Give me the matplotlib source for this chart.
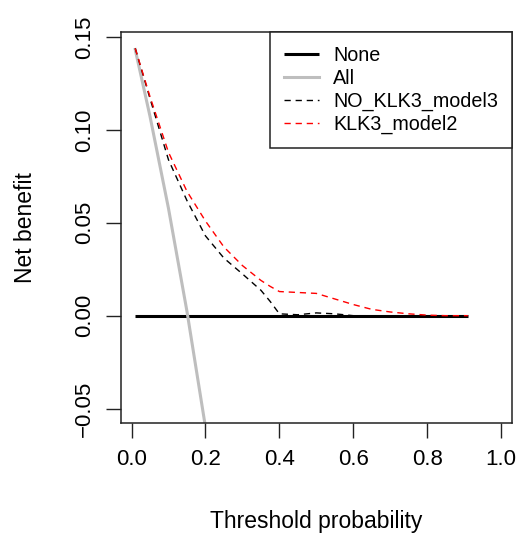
import matplotlib

matplotlib.use("Agg")
import matplotlib.pyplot as plt


# values
THRESHOLDS = [0.01, 0.05, 0.10, 0.15, 0.20, 0.25, 0.30, 0.35, 0.375, 0.40, 0.45,
              0.50, 0.55, 0.60, 0.65, 0.70, 0.75, 0.80, 0.85, 0.90, 0.91]
NONE_NB = [0.0] * len(THRESHOLDS)
ALL_THRESHOLDS = [0.01, 0.05, 0.10, 0.15, 0.20, 0.25]
ALL_NB = [0.1434, 0.1074, 0.0578, 0.0023, -0.060, -0.130]
NO_KLK3_NB = [0.144, 0.117, 0.084, 0.062, 0.043, 0.031, 0.0225, 0.0137, 0.0077, 0.001,
              0.0005, 0.0015, 0.001, 0.0, 0.0, 0.0, 0.0, 0.0, 0.0, 0.0, 0.0]
KLK3_NB = [0.144, 0.118, 0.088, 0.067, 0.051, 0.037, 0.027, 0.019, 0.0158, 0.013,
           0.0125, 0.012, 0.009, 0.006, 0.0034, 0.002, 0.001, 0.0003, 0.0, 0.0, 0.0]

X_TICKS = [0.0, 0.2, 0.4, 0.6, 0.8, 1.0]
Y_TICKS = [-0.05, 0.00, 0.05, 0.10, 0.15]

GRAY = "#BEBEBE"
RED = "#FF0000"


def main() -> int:
    plt.rcParams["font.family"] = ["Liberation Sans", "DejaVu Sans"]

    figure = plt.figure(figsize=(5.19, 5.34), dpi=100)
    ax = figure.add_axes([0.2326, 0.2079, 0.9865 - 0.2326, 0.940 - 0.2079])

    ax.plot(THRESHOLDS, NONE_NB, color="black", linewidth=2.2, label="None",
            solid_capstyle="butt")
    ax.plot(ALL_THRESHOLDS, ALL_NB, color=GRAY, linewidth=2.2, label="All")
    ax.plot(THRESHOLDS, NO_KLK3_NB, color="black", linewidth=1.0,
            dashes=(4.5, 3.5), label="NO_KLK3_model3")
    ax.plot(THRESHOLDS, KLK3_NB, color=RED, linewidth=1.0,
            dashes=(4.5, 3.5), label="KLK3_model2")

    ax.set_xlim(-0.0292, 1.0292)
    ax.set_ylim(-0.0578, 0.1528)
    ax.set_xticks(X_TICKS)
    ax.set_xticklabels([f"{v:.1f}" for v in X_TICKS])
    ax.set_yticks(Y_TICKS)
    ax.set_yticklabels([f"{v:.2f}".replace("-", "\u2212") for v in Y_TICKS],
                       rotation=90, va="center")

    ax.tick_params(direction="out", length=10.5, width=1.0, labelsize=16,
                   pad=8, color="#222222")
    for spine in ax.spines.values():
        spine.set_linewidth(1.1)
        spine.set_color("#222222")

    ax.set_xlabel("Threshold probability", fontsize=16.5, labelpad=29)
    ax.set_ylabel("Net benefit", fontsize=16.5, labelpad=27)

    legend = ax.legend(
        loc="upper right",
        bbox_to_anchor=(1.0, 1.0),
        borderaxespad=0.0,
        fontsize=14.2,
        frameon=True,
        fancybox=False,
        edgecolor="#222222",
        framealpha=1.0,
        handlelength=1.8,
        handletextpad=0.7,
        labelspacing=0.2,
        borderpad=0.7,
    )
    legend.get_frame().set_linewidth(1.1)

    figure.savefig("out.png", dpi=100)
    plt.close(figure)
    return 0


if __name__ == "__main__":
    raise SystemExit(main())
